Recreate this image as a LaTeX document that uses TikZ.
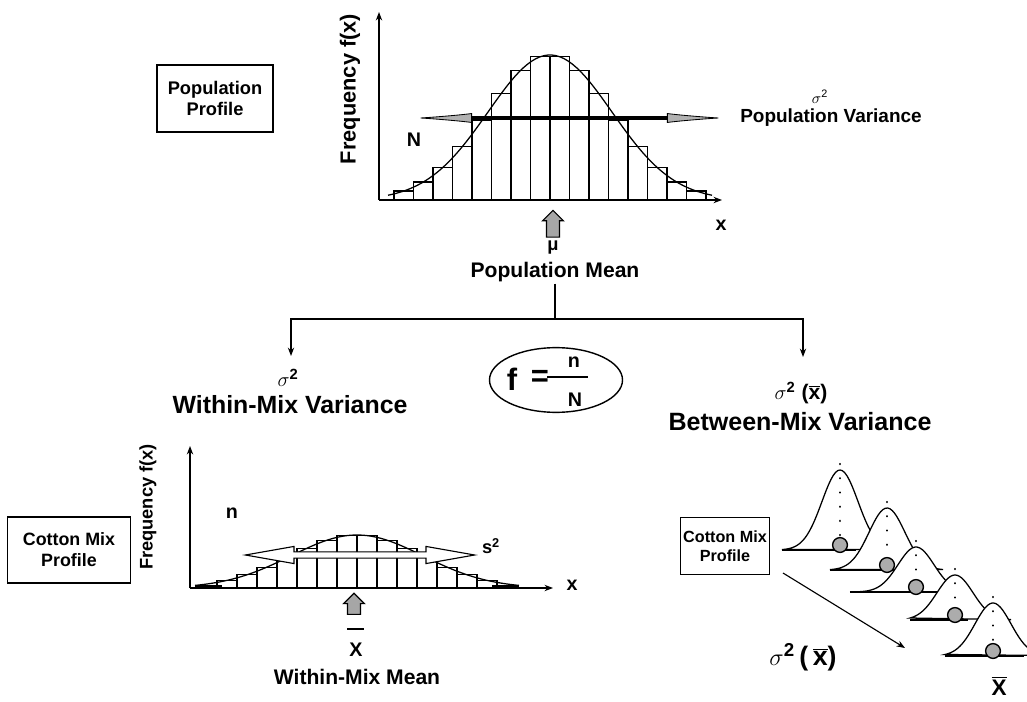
\documentclass[tikz,border=0pt]{standalone}
\usepackage{fontspec}
\setmainfont{Liberation Sans}
\usetikzlibrary{arrows.meta,shapes.geometric,shapes.arrows}
\newcommand\fsz[2]{\fontsize{#1}{#2}\selectfont}

\begin{document}
\begin{tikzpicture}[
  x=0.025cm,y=-0.025cm,
  font=\bfseries,
  >={Stealth[length=6pt,width=4.5pt]},
  lbl/.style={inner sep=1pt},
  profilebox/.style={draw,line width=0.9pt,align=center,inner sep=2pt},
  axisline/.style={line width=1.3pt},
  histbar/.style={draw,line width=0.8pt,fill=white},
  bellcurve/.style={line width=0.9pt},
  treeline/.style={line width=0.8pt},
  meanarrow/.style={single arrow,draw,line width=0.8pt,fill=gray!70,shape border rotate=90,
                    single arrow head extend=2.8pt,inner sep=4.2pt,minimum height=19pt},
  withinarrow/.style={double arrow,draw,line width=0.8pt,fill=white,inner sep=1.8pt,
                      double arrow head extend=3.9pt,double arrow tip angle=20,minimum height=163pt},
  dotline/.style={line width=1.6pt,dash pattern=on 0.1pt off 10pt,line cap=round},
  ball/.style={circle,draw,line width=1pt,fill=gray!65,minimum size=10.5pt,inner sep=0pt}
]
\useasboundingbox (0,0) rectangle (1027,702);

% population profile
\node[profilebox,font=\bfseries\fsz{13}{15.5},minimum width=82.5pt,minimum height=47.7pt] (popbox) at (215,98.5) {Population\\Profile};
\coordinate (o1) at (379,200);
\coordinate (ytop1) at (379,12);
\coordinate (xend1) at (722,200);
\foreach \i in {0,...,15}{
  \pgfmathsetmacro\xl{394+19.5*\i}
  \pgfmathsetmacro\hb{145*exp(-0.5*((\xl+9.75-550)/62)^2)}
  \draw[histbar] (\xl,200) rectangle ++(19.5,-\hb);
}
\draw[bellcurve] plot[domain=388:712,samples=80] (\x,{200-145*exp(-0.5*((\x-550)/62)^2)});
\draw[axisline,->] (o1) -- (ytop1);
\draw[axisline,->] (o1) -- (xend1);
\node[lbl,font=\bfseries\fsz{15.5}{18},rotate=90] (freq1) at (350,89) {Frequency f(x)};
\node[lbl,font=\bfseries\fsz{14}{16}] (bigN) at (414,140) {N};
\coordinate (pvl) at (413,118);
\coordinate (pvr) at (726,118);
\draw[line width=2.2pt,{Latex[length=42pt,width=7pt,line width=0.6pt,fill=gray!60]}-{Latex[length=42pt,width=7pt,line width=0.6pt,fill=gray!60]}] (pvl) -- (pvr);
\node[lbl,font=\fsz{11}{13}] (psig) at (820,97) {$\sigma$\textsuperscript{2}};
\node[lbl,font=\bfseries\fsz{13.5}{16}] (pvar) at (831,118) {Population Variance};
\node[lbl,font=\bfseries\fsz{14}{16}] (xtop) at (721,225) {x};
\node[meanarrow] (muarrow) at (553,227) {};
\node[lbl,font=\bfseries\fsz{13}{15}] (mu) at (553,248) {μ};
\node[lbl,font=\bfseries\fsz{15}{18}] (pmean) at (555,272) {Population Mean};

% split into the two variances
\coordinate (fork) at (555,319);
\coordinate (wtip) at (291,356);
\coordinate (btip) at (803,357);
\draw[treeline] (pmean.south) -- (fork);
\draw[treeline,->] (fork) -| (wtip);
\draw[treeline,->] (fork) -| (btip);
\node[lbl,font=\bfseries\fsz{15}{18}] (wsig) at (288,378) {$\sigma$\textsuperscript{2}};
\node[lbl,font=\bfseries\fsz{17.7}{20}] (wvar) at (290,405) {Within-Mix Variance};
\node[lbl,font=\bfseries\fsz{15}{18}] (bsig) at (801,393) {$\sigma$\textsuperscript{2} ($\overline{\mbox{x}}$)};
\node[lbl,font=\bfseries\fsz{17.8}{20}] (bvar) at (800,422) {Between-Mix Variance};
\node[ellipse,draw,line width=1pt,minimum width=94.6pt,minimum height=46pt] (fbox) at (556,380) {};
\node[lbl,font=\bfseries\fsz{22}{24}] (fsym) at (512,379) {f};
\node[lbl,font=\bfseries\fsz{22}{24}] (feq) at (540,378) {=};
\draw[line width=1pt] (547,377) -- (588,377);
\node[lbl,font=\bfseries\fsz{14}{16}] (fn) at (574,362) {n};
\node[lbl,font=\bfseries\fsz{14}{16}] (fN) at (575,400) {N};

% cotton mix, within
\node[profilebox,font=\bfseries\fsz{12.7}{15},minimum width=87pt,minimum height=47pt] (cmbox) at (69,550) {Cotton Mix\\Profile};
\coordinate (o2) at (190,588);
\coordinate (ytop2) at (190,446);
\coordinate (xend2) at (553,588);
\foreach \i in {0,...,13}{
  \pgfmathsetmacro\xl{217+20*\i}
  \pgfmathsetmacro\hb{53*exp(-0.5*((\xl+10-357)/66)^2)}
  \draw[histbar] (\xl,588) rectangle ++(20,-\hb);
}
\draw[bellcurve] plot[domain=195:519,samples=80] (\x,{588-53*exp(-0.5*((\x-357)/66)^2)});
\draw[line width=2.4pt] (195,587) -- (222,587);
\draw[line width=2.4pt] (492,587) -- (519,587);
\draw[axisline,->] (o2) -- (ytop2);
\draw[axisline,->] (o2) -- (xend2);
\node[lbl,font=\bfseries\fsz{13}{15},rotate=90] (freq2) at (148,507) {Frequency f(x)};
\node[lbl,font=\bfseries\fsz{14}{16}] (smalln) at (232,513) {n};
\node[withinarrow] (warrow) at (360,555) {};
\node[lbl,font=\bfseries\fsz{13}{15}] (s2) at (491,546) {s\textsuperscript{2}};
\node[lbl,font=\bfseries\fsz{14}{16}] (xbot) at (572,585) {x};
\node[meanarrow,minimum height=15pt] (xbararrow) at (354,607) {};
\draw[line width=1pt] (347,629) -- (364,629);
\node[lbl,font=\bfseries\fsz{14}{16}] (xbar) at (356,650) {X};
\node[lbl,font=\bfseries\fsz{15}{18}] (wmean) at (357,677) {Within-Mix Mean};

% cotton mix, between
\node[profilebox,font=\bfseries\fsz{11.5}{13.5},minimum width=60pt,minimum height=41pt] (cmbox2) at (725,546) {Cotton Mix\\Profile};
\foreach \cx/\by/\h/\lf/\re [count=\k] in {840/550/80/782/856,887/570/62/830/900,916/592/45/850/940,955/620/45/910/968,993/656/53/945/1024}{
  \pgfmathsetmacro\rt{\cx+56}
  \draw[bellcurve,fill=white] plot[domain=\lf:\rt,samples=50] (\x,{\by-\h*exp(-0.5*((\x-\cx)/18)^2)}) -- cycle;
  \draw[line width=1.5pt] (\lf,\by) -- (\re,\by);
  \draw[dotline] (\cx,\by-\h-6) -- (\cx,\by-10);
  \node[ball] (ball\k) at (\cx,\by-5) {};
}
\coordinate (bstart) at (783,573);
\coordinate (bend) at (905,648);
\draw[line width=0.8pt,->] (bstart) -- (bend);
\node[lbl,font=\bfseries\fsz{19}{22}] (bsig2) at (803,657) {$\sigma$\textsuperscript{2}\,(\,$\overline{\mbox{x}}$)};
\node[lbl,font=\bfseries\fsz{16}{18}] (xbar2) at (999,686) {$\overline{\mbox{X}}$};
\end{tikzpicture}
\end{document}
